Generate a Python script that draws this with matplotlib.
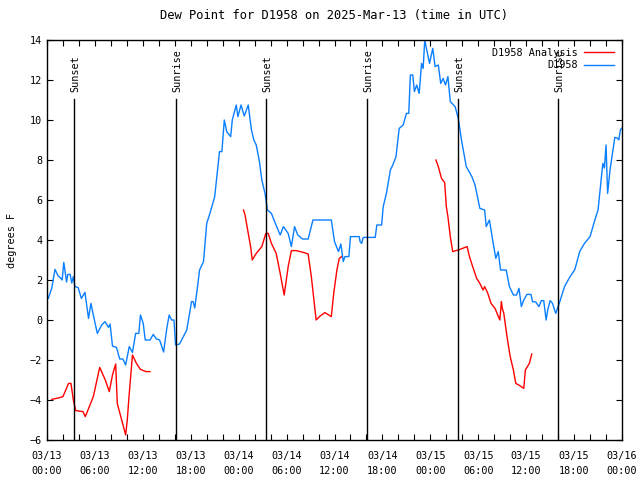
import numpy as np
import matplotlib.pyplot as plt
from matplotlib.ticker import MultipleLocator

# Observed dew point (hours since 03/13 00:00 UTC, degrees F)
obs_h = [0.16, 0.6, 1.0, 1.4, 1.7, 1.9, 2.1, 2.45, 2.6, 2.9, 3.1, 3.3, 3.5, 3.9, 4.3, 4.75,
         5.2, 5.5, 5.8, 6.3, 6.85, 7.26, 7.7, 7.9, 8.2, 8.7, 9.1, 9.5, 9.85, 10.3, 10.7,
         11.1, 11.5, 11.7, 12.05, 12.3, 12.9, 13.3, 13.7, 14.1, 14.6, 15.0, 15.3, 15.6,
         15.9, 16.1, 16.6, 17.5, 18.1, 18.3, 18.5, 18.9, 19.1, 19.4, 19.6, 20.0, 20.4,
         21.0, 21.6, 21.9, 22.2, 22.5, 23.0, 23.2, 23.7, 23.9, 24.3, 24.7, 25.2, 25.6,
         25.9, 26.2, 26.6, 26.9, 27.3, 27.6, 28.1, 28.5, 29.2, 29.6, 30.2, 30.6, 31.0,
         31.4, 32.0, 32.7, 33.3, 35.6, 36.0, 36.5, 36.8, 37.1, 37.3, 37.8, 38.0, 39.1,
         39.2, 39.4, 39.6, 41.1, 41.3, 41.9, 42.1, 42.5, 43.0, 43.3, 43.7, 44.1, 44.6,
         45.0, 45.3, 45.5, 45.8, 46.0, 46.3, 46.6, 46.9, 47.1, 47.3, 47.5, 47.9, 48.3,
         48.6, 49.0, 49.3, 49.6, 49.9, 50.2, 50.5, 51.1, 51.5, 51.9, 52.5, 53.2, 53.6,
         54.2, 54.8, 55.0, 55.4, 55.8, 56.2, 56.5, 56.8, 57.5, 57.9, 58.4, 58.8, 59.1,
         59.4, 59.7, 60.1, 60.6, 60.8, 61.2, 61.6, 61.9, 62.2, 62.5, 62.7, 63.0, 63.3,
         63.7, 64.2, 64.8, 65.5, 66.1, 66.7, 67.3, 68.0, 68.6, 69.0, 69.3, 69.6, 69.8,
         70.0, 70.2, 70.5, 70.8, 71.1, 71.4, 71.6, 71.8, 72.0]
obs_v = [1.08, 1.6, 2.53, 2.2, 2.1, 2.0, 2.88, 1.9, 2.28, 2.28, 1.85, 2.17, 1.67, 1.62, 1.08,
         1.38, 0.08, 0.83, 0.25, -0.67, -0.25, -0.08, -0.37, -0.2, -1.3, -1.37, -1.95,
         -1.95, -2.25, -1.33, -1.62, -0.67, -0.67, 0.25, -0.17, -1.0, -1.0, -0.72, -0.95,
         -1.0, -1.6, -0.42, 0.25, 0.0, 0.0, -1.25, -1.2, -0.5, 0.92, 0.92, 0.6, 1.83, 2.5,
         2.75, 2.92, 4.83, 5.33, 6.17, 8.42, 8.42, 10.0, 9.42, 9.17, 10.0, 10.75, 10.17,
         10.75, 10.2, 10.75, 9.5, 9.0, 8.75, 7.92, 7.0, 6.33, 5.5, 5.33, 4.92, 4.25, 4.67,
         4.33, 3.67, 4.67, 4.25, 4.05, 4.05, 5.0, 5.0, 3.92, 3.42, 3.8, 2.92, 3.17, 3.17,
         4.17, 4.17, 3.92, 3.83, 4.13, 4.13, 4.75, 4.75, 5.67, 6.33, 7.5, 7.75, 8.17, 9.58,
         9.75, 10.33, 10.33, 12.25, 12.25, 11.42, 11.75, 11.33, 12.83, 12.58, 14.0, 13.6,
         12.83, 13.58, 12.67, 12.75, 11.83, 12.08, 11.75, 12.17, 10.92, 10.67, 10.08, 9.0,
         7.67, 7.17, 6.75, 5.58, 5.5, 4.67, 5.0, 4.0, 3.08, 3.42, 2.5, 2.5, 1.67, 1.25,
         1.25, 1.58, 0.67, 1.0, 1.28, 1.28, 0.92, 0.9, 0.67, 0.97, 0.97, 0.0, 0.5, 0.97,
         0.83, 0.33, 0.9, 1.67, 2.17, 2.53, 3.42, 3.83, 4.17, 5.0, 5.5, 6.67, 7.83, 7.6,
         8.75, 6.33, 7.5, 8.33, 9.13, 9.1, 9.0, 9.5, 9.6]

# Analysis (three separate runs, NaN = gap)
ana_h = [0.6, 1.6, 2.0, 2.7, 3.0, 3.3, 3.6, 4.5, 4.8, 5.8, 6.6, 7.3, 7.8, 8.2, 8.6, 8.8,
         9.35, 9.85, 10.05, 10.3, 10.7, 11.2, 11.7, 12.4, 12.9, 18.0,
         24.6, 24.8, 25.2, 25.5, 25.7, 26.2, 26.9, 27.4, 27.7, 28.1, 28.7, 29.2, 29.7,
         30.2, 30.6, 31.2, 32.1, 32.7, 33.1, 33.7, 34.2, 34.8, 35.6, 35.9, 36.3, 36.6,
         36.9, 42.0,
         48.7, 49.0, 49.4, 49.8, 50.0, 50.2, 50.5, 50.8, 51.7, 52.6, 52.9, 53.3, 53.8,
         54.2, 54.6, 54.8, 55.2, 55.6, 56.1, 56.7, 56.9, 57.0, 57.2, 57.6, 58.0, 58.4,
         58.7, 59.2, 59.7, 59.9, 60.4, 60.7]
ana_v = [-3.97, -3.88, -3.83, -3.17, -3.17, -4.0, -4.53, -4.58, -4.83, -3.83, -2.37, -3.0,
         -3.58, -2.75, -2.2, -4.17, -5.0, -5.75, -5.0, -3.67, -1.75, -2.17, -2.47, -2.58,
         -2.58, np.nan,
         5.5, 5.25, 4.33, 3.67, 3.0, 3.33, 3.67, 4.33, 4.33, 3.83, 3.33, 2.33, 1.25, 2.67,
         3.47, 3.47, 3.38, 3.3, 2.17, 0.0, 0.2, 0.37, 0.17, 1.33, 2.5, 3.08, 3.17, np.nan,
         8.0, 7.67, 7.08, 6.87, 5.67, 5.17, 4.17, 3.42, 3.53, 3.67, 3.17, 2.67, 2.08, 1.83,
         1.5, 1.67, 1.33, 0.83, 0.58, 0.0, 0.92, 0.6, 0.33, -0.83, -1.83, -2.5, -3.17,
         -3.28, -3.42, -2.5, -2.17, -1.7]

sun_h = [3.38, 16.14, 27.41, 40.09, 51.48, 63.99]
sun_lbl = ['Sunset', 'Sunrise', 'Sunset', 'Sunrise', 'Sunset', 'Sunrise']

xlabels = ['03/13\n00:00', '03/13\n06:00', '03/13\n12:00', '03/13\n18:00',
           '03/14\n00:00', '03/14\n06:00', '03/14\n12:00', '03/14\n18:00',
           '03/15\n00:00', '03/15\n06:00', '03/15\n12:00', '03/15\n18:00',
           '03/16\n00:00']

plt.rcParams['font.family'] = ['DejaVu Sans Mono']
plt.rcParams['font.size'] = 7.3

fig = plt.figure(figsize=(6.4, 4.8), dpi=100)
ax = fig.add_axes([47 / 640, 40 / 480, 575 / 640, 400 / 480])

ax.plot(ana_h, ana_v, color='#ff0000', lw=1.0, label='D1958 Analysis')
ax.plot(obs_h, obs_v, color='#0a7fff', lw=1.0, label='D1958')

for h, s in zip(sun_h, sun_lbl):
    ax.plot([h, h], [-6, 11.03], color='black', lw=1.0)
    ax.text(h + 0.2, 11.4, s, rotation=90, ha='center', va='bottom')

ax.set_xlim(0, 72)
ax.set_ylim(-6, 14)
ax.set_xticks(np.arange(0, 73, 6))
ax.set_xticklabels(xlabels, linespacing=1.6)
ax.xaxis.set_minor_locator(MultipleLocator(2))
ax.yaxis.set_major_locator(MultipleLocator(2))
ax.tick_params(which='both', direction='in', top=True, right=True, length=4, width=0.8)
ax.tick_params(axis='x', pad=8)
for sp in ax.spines.values():
    sp.set_linewidth(1.0)

ax.set_ylabel('degrees F', labelpad=9)
ax.set_title('Dew Point for D1958 on 2025-Mar-13 (time in UTC)', pad=15)
ax.legend(loc='upper right', frameon=False, markerfirst=False, handlelength=3.0,
          borderaxespad=0.35, labelspacing=0.25, handletextpad=0.6)

fig.savefig('out.png', dpi=100)
